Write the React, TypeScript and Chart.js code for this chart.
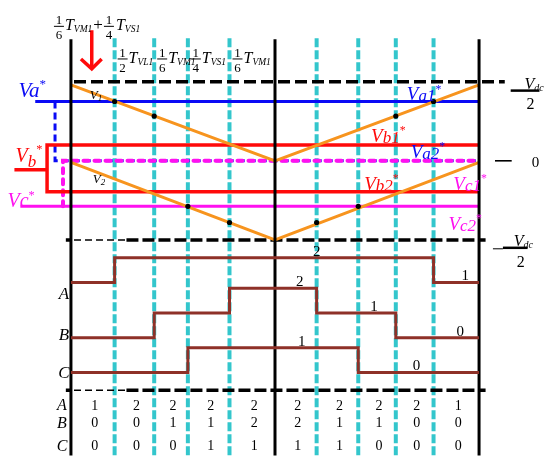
import React, { useEffect, useRef } from "react";
import { Chart, registerables } from "chart.js";

Chart.register(...registerables);

// ---------- data (time t: -1..1 over one carrier period, voltage v in units of Vdc/2) ----------
const periodEdges = [-1, 0, 1];
const switchTimes = [-0.786, -0.592, -0.427, -0.223, 0.204, 0.408, 0.592, 0.777];
const upperCarrierT = [-1, 0, 1];
const upperCarrierV = [0.96, 0, 0.96];
const lowerCarrierT = [-1, 0, 1];
const lowerCarrierV = [-0.02, -1, -0.02];
const dcLevels = [1, 0, -1];
const refVa = 0.75;
const refVb1 = 0.2;
const refVb2 = -0.39;
const refVc = -0.575;
const refZero = 0;
const dotValues = [0.75, 0.565, -0.575, -0.78, -0.78, -0.575, 0.565, 0.75];
const levelsA = [1, 2, 2, 2, 2, 2, 2, 2, 2, 1];
const levelsB = [0, 0, 1, 1, 2, 2, 1, 1, 0, 0];
const levelsC = [0, 0, 0, 1, 1, 1, 1, 0, 0, 0];
const phaseNames = ["A", "B", "C"];
const firstTerms = [
  ["1", "6", "VM1"],
  ["1", "4", "VS1"],
];
const intervalTerms = [
  ["1", "2", "VL1"],
  ["1", "6", "VM1"],
  ["1", "4", "VS1"],
  ["1", "6", "VM1"],
];
// [time, level] where the level values are written on the step waveforms
const stepNotesA = [[0.204, 2], [0.932, 1]];
const stepNotesB = [[0.121, 2], [0.485, 1], [0.908, 0]];
const stepNotesC = [[0.131, 1], [0.694, 0]];

// ---------- layout (scale units) ----------
const X_MIN = -275 / 206;
const X_MAX = 275 / 206;
const Y_MAX = 2;
const Y_MIN = -3.8;
const V_TOP = 1.5375;
const V_CYAN_TOP = 1.55;
const V_BOTTOM = -3.725;
const STEP = 0.3125;
const BASES = [-1.85, -2.2375, -2.675];
const V_TABLE_LINE = -2.9;
const TABLE_ROWS = [-3.1, -3.325, -3.6125];

const SERIF = '"Liberation Serif", "Times New Roman", serif';
const CYAN = "#33C6CC";
const BLUE = "#0A0AF5";
const RED = "#FF0A0A";
const MAGENTA = "#FF10F0";
const ORANGE = "#F7941E";
const BROWN = "#8E3128";

const boundaries = [-1, ...switchTimes.slice(0, 4), 0, ...switchTimes.slice(4), 1];

type P = { x: number; y: number };
const seg = (data: P[], color: string, width: number, extra: any = {}) => ({
  data,
  borderColor: color,
  backgroundColor: color,
  borderWidth: width,
  showLine: true,
  pointRadius: 0,
  pointHoverRadius: 0,
  fill: false,
  tension: 0,
  borderCapStyle: "butt",
  borderJoinStyle: "miter",
  ...extra,
});

function stepData(levels: number[], base: number): P[] {
  const pts: P[] = levels.map((l, i) => ({ x: boundaries[i], y: base + l * STEP }));
  pts.push({ x: boundaries[boundaries.length - 1], y: base + levels[levels.length - 1] * STEP });
  return pts;
}

function buildDatasets() {
  const ds: any[] = [];
  // cyan switching instants
  switchTimes.forEach((t) =>
    ds.push(seg([{ x: t, y: V_CYAN_TOP }, { x: t, y: V_BOTTOM }], CYAN, 4, { borderDash: [9, 3] }))
  );
  // black dashed dc levels
  ds.push(seg([{ x: -0.985, y: dcLevels[0] }, { x: 1.126, y: dcLevels[0] }], "#000", 3.5, { borderDash: [12, 5] }));
  [dcLevels[2], V_TABLE_LINE].forEach((v) => {
    ds.push(seg([{ x: -1.025, y: v }, { x: -0.995, y: v }], "#000", 3.5));
    ds.push(seg([{ x: -0.985, y: v }, { x: -0.728, y: v }], "#000", 1.5, { borderDash: [7, 4] }));
    ds.push(seg([{ x: -0.728, y: v }, { x: 1.032, y: v }], "#000", 3.5, { borderDash: [12, 4] }));
  });
  // blue dashed (Va2*) and magenta dotted (Vc1*) zero lines
  ds.push(
    seg(
      [{ x: -1.078, y: refVa }, { x: -1.078, y: refZero }, { x: 1, y: refZero }],
      BLUE,
      3,
      { borderDash: [7, 4] }
    )
  );
  ds.push(
    seg(
      [{ x: -1.039, y: refVc }, { x: -1.039, y: refZero }, { x: 1, y: refZero }],
      MAGENTA,
      4,
      { borderDash: [5, 6], borderCapStyle: "round" }
    )
  );
  // references
  ds.push(seg([{ x: -1.175, y: refVa }, { x: 1, y: refVa }], BLUE, 3));
  ds.push(
    seg(
      [{ x: 1, y: refVb1 }, { x: -1.117, y: refVb1 }, { x: -1.117, y: refVb2 }, { x: 1, y: refVb2 }],
      RED,
      3.5
    )
  );
  ds.push(seg([{ x: -1.277, y: -0.1125 }, { x: -1.117, y: -0.1125 }], RED, 3.5));
  ds.push(seg([{ x: -1.248, y: refVc }, { x: 1, y: refVc }], MAGENTA, 3));
  // carriers
  ds.push(seg(upperCarrierT.map((t, i) => ({ x: t, y: upperCarrierV[i] })), ORANGE, 3));
  ds.push(seg(lowerCarrierT.map((t, i) => ({ x: t, y: lowerCarrierV[i] })), ORANGE, 3));
  // frame verticals
  periodEdges.forEach((t) => ds.push(seg([{ x: t, y: V_TOP }, { x: t, y: V_BOTTOM }], "#000", 3)));
  // crossing dots
  ds.push({
    data: switchTimes.map((t, i) => ({ x: t, y: dotValues[i] })),
    showLine: false,
    pointRadius: 2.6,
    pointHoverRadius: 0,
    pointBackgroundColor: "#000",
    pointBorderWidth: 0,
    borderColor: "#000",
  });
  // step waveforms (horizontal at each interval's level, vertical at the switching instant)
  [levelsA, levelsB, levelsC].forEach((lv, k) =>
    ds.push(seg(stepData(lv, BASES[k]), BROWN, 3, { stepped: "before" }))
  );
  // red arrow
  ds.push(seg([{ x: -0.898, y: 1.65 }, { x: -0.898, y: 1.175 }], RED, 3.5));
  ds.push(seg([{ x: -0.951, y: 1.2875 }, { x: -0.898, y: 1.1625 }, { x: -0.8495, y: 1.2875 }], RED, 3.5));
  const n = ds.length;
  ds.forEach((d, i) => (d.order = n - i));
  return ds;
}

const annotPlugin = {
  id: "annot",
  afterDatasetsDraw(chart: any) {
    const ctx: CanvasRenderingContext2D = chart.ctx;
    const X = (t: number) => chart.scales.x.getPixelForValue(t);
    const Y = (v: number) => chart.scales.y.getPixelForValue(v);
    ctx.save();
    const put = (
      s: string,
      x: number,
      y: number,
      size: number,
      color = "#000",
      italic = false,
      align: CanvasTextAlign = "left",
      base: CanvasTextBaseline = "alphabetic"
    ) => {
      ctx.font = `${italic ? "italic " : ""}${size}px ${SERIF}`;
      ctx.fillStyle = color;
      ctx.textAlign = align;
      ctx.textBaseline = base;
      ctx.fillText(s, x, y);
      return ctx.measureText(s).width;
    };
    const bar = (x1: number, x2: number, y: number, w: number, color = "#000") => {
      ctx.strokeStyle = color;
      ctx.lineWidth = w;
      ctx.setLineDash([]);
      ctx.beginPath();
      ctx.moveTo(x1, y);
      ctx.lineTo(x2, y);
      ctx.stroke();
    };
    const frac = (cx: number, by: number, n: string, d: string) => {
      put(n, cx, by - 2, 13, "#000", false, "center");
      bar(cx - 5, cx + 5, by, 1);
      put(d, cx, by + 13, 13, "#000", false, "center");
    };
    const tTerm = (x: number, by: number, sub: string) => {
      const w = put("T", x, by + 4, 16, "#000", true);
      put(sub, x + w, by + 6, 9.5, "#000", true);
    };
    const vLabel = (
      x: number,
      by: number,
      main: string,
      sub: string,
      color: string,
      size: number,
      subSize: number,
      subDrop: number,
      star: boolean
    ) => {
      let w = put(main, x, by, size, color, true);
      if (sub) w += put(sub, x + w, by + subDrop, subSize, color, true);
      if (star) put("*", x + w, by - size * 0.42, size * 0.62, color, false);
    };

    // top-left time expression
    const x0 = X(-1);
    const by0 = Y(1.7);
    frac(x0 - 12, by0, firstTerms[0][0], firstTerms[0][1]);
    tTerm(x0 - 6, by0, firstTerms[0][2]);
    put("+", x0 + 27, by0 - 1, 17, "#000", false, "center", "middle");
    frac(x0 + 38, by0, firstTerms[1][0], firstTerms[1][1]);
    tTerm(x0 + 45, by0, firstTerms[1][2]);

    // interval durations
    const by1 = Y(1.2875);
    intervalTerms.forEach((term, i) => {
      const xb = X(switchTimes[i]);
      frac(xb + 8, by1, term[0], term[1]);
      tTerm(xb + 14, by1, term[2]);
    });

    // right side: Vdc/2, 0, -Vdc/2
    bar(X(1.155), X(1.296), Y(0.8875), 2.5);
    {
      const w = put("V", X(1.223), Y(0.9125), 16, "#000", true);
      put("dc", X(1.223) + w, Y(0.9125) + 2, 10, "#000", true);
      put("2", X(1.252), Y(0.7125), 16, "#000", false, "center", "middle");
    }
    bar(X(1.078), X(1.16), Y(0), 1.6);
    put("0", X(1.277), Y(-0.03), 15, "#000", false, "center", "middle");
    bar(X(1.068), X(1.117), Y(-1.1125), 1);
    bar(X(1.117), X(1.238), Y(-1.1), 2.5);
    {
      const w = put("V", X(1.17), Y(-1.08), 16, "#000", true);
      put("dc", X(1.17) + w, Y(-1.08) + 2, 10, "#000", true);
      put("2", X(1.204), Y(-1.2875), 16, "#000", false, "center", "middle");
    }

    // left reference labels
    vLabel(X(-1.257), Y(0.8125), "Va", "", BLUE, 21, 0, 0, true);
    vLabel(X(-1.272), Y(-0.0125), "V", "b", RED, 20, 17, 5, true);
    vLabel(X(-1.311), Y(-0.5875), "Vc", "", MAGENTA, 20, 0, 0, true);

    // inner labels
    vLabel(X(-0.908), Y(0.7875), "V", "1", "#000", 13, 9, 2, false);
    vLabel(X(-0.893), Y(-0.275), "V", "2", "#000", 13, 9, 2, false);
    vLabel(X(0.646), Y(0.7625), "V", "a1", BLUE, 19, 17, 1, true);
    vLabel(X(0.471), Y(0.2375), "V", "b1", RED, 19, 17, 1, true);
    vLabel(X(0.665), Y(0.0375), "V", "a2", BLUE, 19, 17, 1, true);
    vLabel(X(0.437), Y(-0.375), "V", "b2", RED, 19, 17, 1, true);
    vLabel(X(0.874), Y(-0.375), "V", "c1", MAGENTA, 19, 17, 1, true);
    vLabel(X(0.85), Y(-0.875), "V", "c2", MAGENTA, 19, 17, 1, true);

    // step waveform labels
    const rowLabelV = [-1.6875, -2.2125, -2.6875];
    phaseNames.forEach((nm, k) => put(nm, X(-1.034), Y(rowLabelV[k]), 17, "#000", true, "center", "middle"));
    [stepNotesA, stepNotesB, stepNotesC].forEach((notes, k) =>
      notes.forEach(([t, l]) =>
        put(String(l), X(t), Y(BASES[k] + l * STEP) - 2, 15, "#000", false, "center", "alphabetic")
      )
    );

    // table
    const rows = [levelsA, levelsB, levelsC];
    rows.forEach((lv, k) => {
      put(phaseNames[k], X(-1.044), Y(TABLE_ROWS[k]), 16, "#000", true, "center", "middle");
      lv.forEach((l, i) => {
        const cx = (X(boundaries[i]) + X(boundaries[i + 1])) / 2 + 2;
        put(String(l), cx, Y(TABLE_ROWS[k]), 14, "#000", false, "center", "middle");
      });
    });
    ctx.restore();
  },
};

export default function App() {
  const ref = useRef<HTMLCanvasElement | null>(null);
  useEffect(() => {
    if (!ref.current) return;
    const chart = new Chart(ref.current, {
      type: "scatter",
      data: { datasets: buildDatasets() },
      options: {
        responsive: false,
        animation: false,
        events: [],
        layout: { padding: 0 },
        plugins: { legend: { display: false }, tooltip: { enabled: false } },
        scales: {
          x: { type: "linear", display: false, min: X_MIN, max: X_MAX },
          y: { type: "linear", display: false, min: Y_MIN, max: Y_MAX },
        },
      } as any,
      plugins: [annotPlugin],
    });
    return () => chart.destroy();
  }, []);
  return (
    <div style={{ position: "absolute", left: 0, top: 0, width: 550, height: 464, background: "#fff" }}>
      <canvas ref={ref} width={550} height={464} style={{ display: "block" }} />
    </div>
  );
}
